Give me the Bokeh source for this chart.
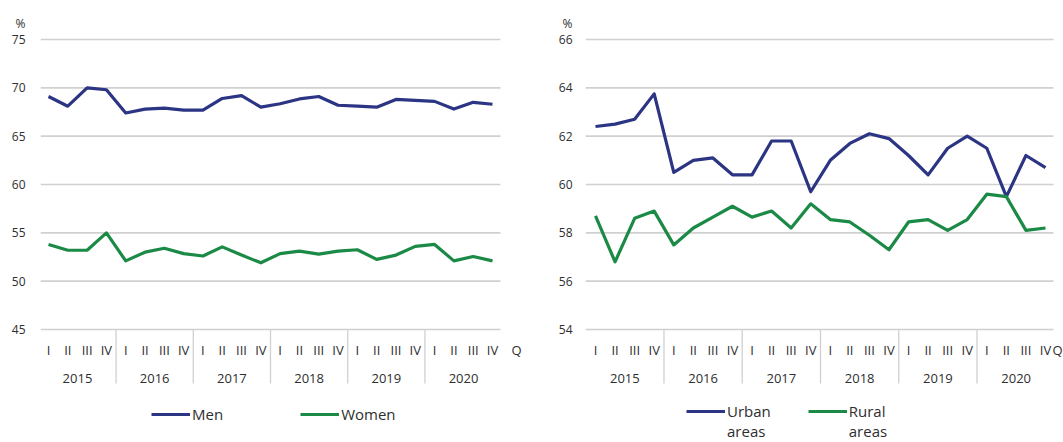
from bokeh.plotting import figure
from bokeh.models import FixedTicker, Legend, LegendItem, Range1d
from bokeh.core.properties import value
from bokeh.layouts import row
from bokeh.embed import file_html
from bokeh.resources import INLINE

years = ["2015", "2016", "2017", "2018", "2019", "2020"]
quarters = ["I", "II", "III", "IV"]

men = [69.1, 68.1, 70.0, 69.8, 67.4, 67.8, 67.9, 67.7, 67.7, 68.9, 69.2, 68.0,
       68.35, 68.85, 69.1, 68.2, 68.1, 68.0, 68.8, 68.7, 68.6, 67.8, 68.5, 68.3]
women = [53.8, 53.2, 53.2, 55.0, 52.1, 53.0, 53.4, 52.85, 52.6, 53.55, 52.7, 51.9,
         52.85, 53.1, 52.8, 53.1, 53.25, 52.25, 52.7, 53.6, 53.8, 52.1, 52.55, 52.1]
urban = [62.4, 62.5, 62.7, 63.75, 60.5, 61.0, 61.1, 60.4, 60.4, 61.8, 61.8, 59.7,
         61.0, 61.7, 62.1, 61.9, 61.2, 60.4, 61.5, 62.0, 61.5, 59.5, 61.2, 60.7]
rural = [58.7, 56.8, 58.6, 58.9, 57.5, 58.2, 58.65, 59.1, 58.65, 58.9, 58.2, 59.2,
         58.55, 58.45, 57.9, 57.3, 58.45, 58.55, 58.1, 58.55, 59.6, 59.5, 58.1, 58.2]

left_ticks = [45, 50, 55, 60, 65, 70, 75]
right_ticks = [54, 56, 58, 60, 62, 64, 66]

FONT = "Open Sans"
NAVY = "#2b3583"
GREEN = "#1b8a46"
GRID = "#d0d0d0"
TEXT = "#2e2e2e"

HEIGHT = 442
TOP_GRID_PX = 39      # pixel row of the highest gridline
LOW_GRID_PX = 329     # pixel row of the lowest gridline


def make_chart(series, labels, colors, yticks, fig_left, width, border_left,
               first_px, last_px, q_offset, label_standoff_y,
               legend_x, legend_y, legend_spacing, line_height):
    n = len(years) * len(quarters)
    xs = list(range(n))
    frame_left = fig_left + border_left
    frame_right = fig_left + width
    step = (last_px - first_px) / (n - 1)
    x_start = -(first_px - frame_left) / step
    x_end = (n - 1) + (frame_right - last_px) / step
    grid_end = (n - 1) + 8 / step

    base = yticks[0]
    ppu = (LOW_GRID_PX - TOP_GRID_PX) / (yticks[-1] - yticks[0])

    def row_val(px):
        return base - (px - LOW_GRID_PX) / ppu

    p = figure(width=width, height=HEIGHT,
               x_range=Range1d(x_start, x_end),
               y_range=Range1d(row_val(HEIGHT), row_val(0)),
               output_backend="svg", toolbar_location=None,
               x_axis_location=None,
               min_border_left=border_left, min_border_right=0,
               min_border_top=0, min_border_bottom=0)
    p.outline_line_color = None
    p.background_fill_color = "white"
    p.border_fill_color = "white"
    p.xgrid.visible = False
    p.ygrid.visible = False

    # y axis: value ticks plus the unit sign above them
    pct_pos = row_val(22.5)
    ya = p.yaxis[0]
    ya.ticker = FixedTicker(ticks=yticks + [pct_pos])
    ya.major_label_overrides = {pct_pos: "%"}
    ya.axis_line_color = None
    ya.major_tick_line_color = None
    ya.major_tick_out = 0
    ya.major_tick_in = 0
    ya.minor_tick_line_color = None
    ya.minor_tick_out = 0
    ya.major_label_text_font = FONT
    ya.major_label_text_font_size = "12px"
    ya.major_label_text_color = TEXT
    ya.major_label_standoff = label_standoff_y

    # horizontal gridlines at the y ticks
    p.segment(x0=[x_start] * len(yticks), x1=[grid_end] * len(yticks),
              y0=yticks, y1=yticks, line_color=GRID, line_width=1.6)

    # quarter labels
    q_row = row_val(349.5)
    p.text(x=xs, y=[q_row] * n,
           text=[quarters[i % len(quarters)] for i in xs],
           text_align="center", text_baseline="middle",
           text_font=value(FONT), text_font_size="13px", text_color=TEXT)
    p.text(x=[n - 1], y=[q_row], text=["Q"], x_offset=q_offset,
           text_align="center", text_baseline="middle",
           text_font=value(FONT), text_font_size="13px", text_color=TEXT)
    # year labels
    centers = [len(quarters) * k + (len(quarters) - 1) / 2 for k in range(len(years))]
    p.text(x=centers, y=[row_val(378)] * len(years), text=years,
           text_align="center", text_baseline="middle",
           text_font=value(FONT), text_font_size="13px", text_color=TEXT)
    # year separators
    seps = [len(quarters) * k - 0.5 for k in range(1, len(years))]
    p.segment(x0=seps, x1=seps, y0=[base] * len(seps), y1=[row_val(383)] * len(seps),
              line_color=GRID, line_width=1.3)

    items = []
    for s, lab, col in zip(series, labels, colors):
        r = p.line(xs, s, line_color=col, line_width=3.2, line_join="round")
        items.append(LegendItem(label=lab, renderers=[r]))

    leg = Legend(items=items, orientation="horizontal", location=(legend_x, legend_y),
                 border_line_color=None, background_fill_alpha=0,
                 glyph_width=39, glyph_height=20, label_standoff=2,
                 spacing=legend_spacing, padding=2, margin=0,
                 label_text_font=FONT, label_text_font_size="15px",
                 label_text_color=TEXT, label_text_line_height=line_height)
    p.add_layout(leg)
    return p


p1 = make_chart([men, women], ["Men", "Women"], [NAVY, GREEN], left_ticks,
                0, 543, 40, 48, 492, 24, 15, 111, 18, 77, 1.2)
# the leading empty line keeps the legend line level with the first text line
p2 = make_chart([urban, rural], ["\nUrban\nareas", "\nRural\nareas"], [NAVY, GREEN], right_ticks,
                543, 520, 42, 595, 1045, 12, 13, 101, 1, 37, 1.3)

layout = row(p1, p2)
open("out.html", "w").write(file_html(layout, INLINE))
